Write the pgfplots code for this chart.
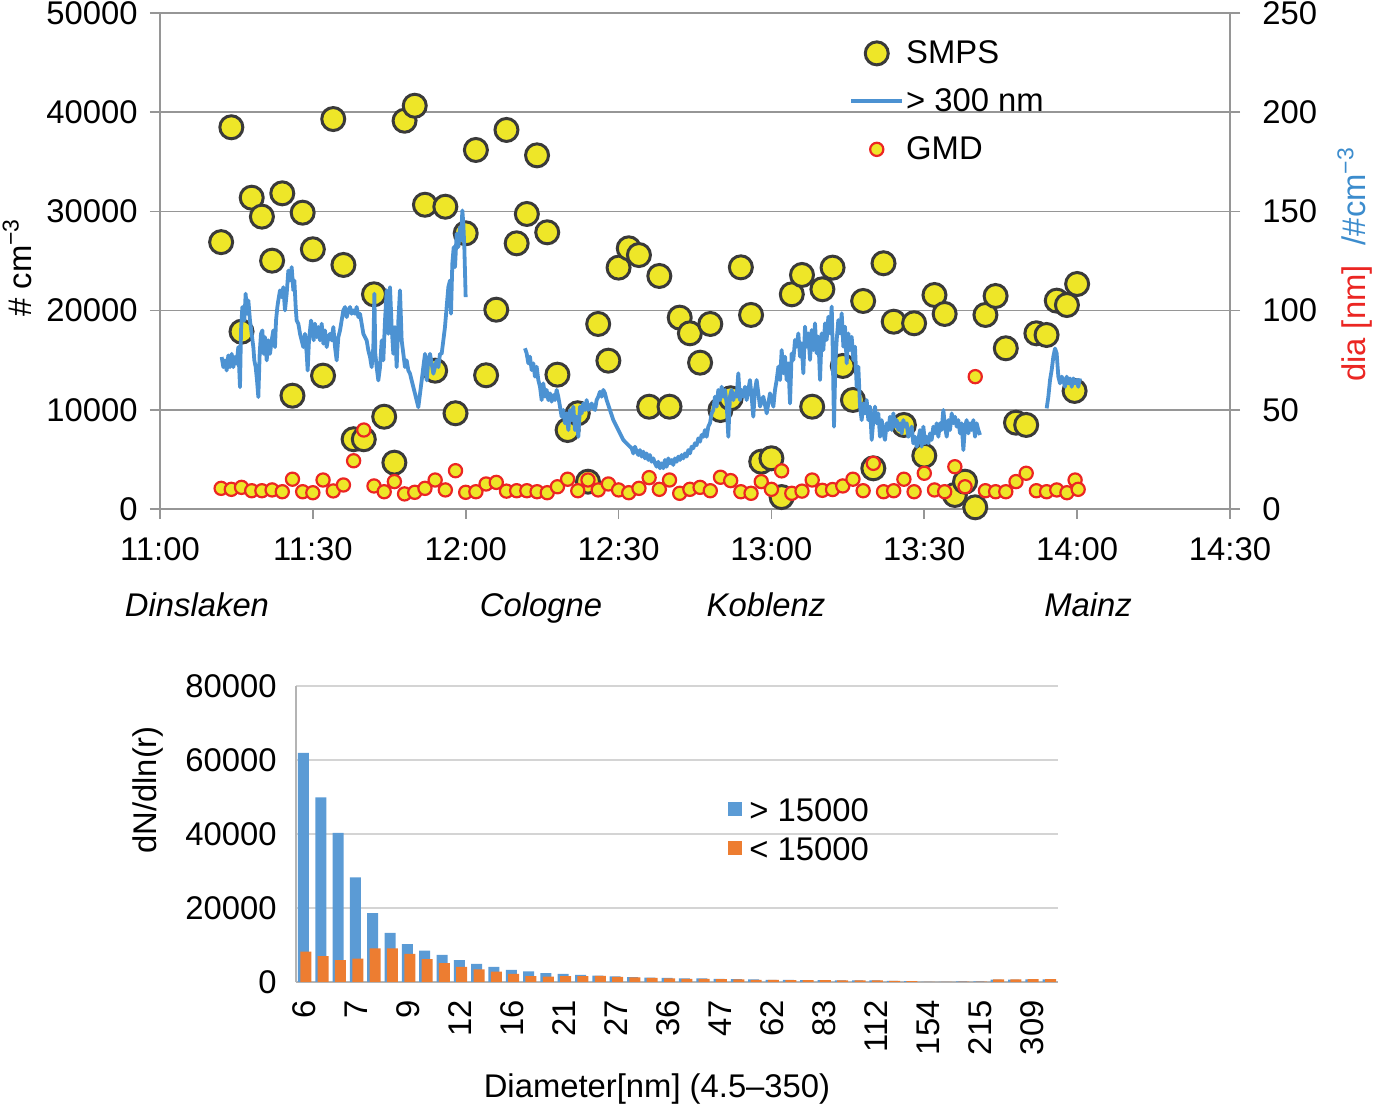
\documentclass[border=0pt]{standalone}
\usepackage{fontspec}
\setmainfont{Liberation Sans}
\usepackage{pgfplots}
\pgfplotsset{compat=1.18}
\definecolor{smpsF}{RGB}{238,230,40}
\definecolor{smpsE}{RGB}{58,58,58}
\definecolor{gmdE}{RGB}{235,38,35}
\definecolor{lineB}{RGB}{76,146,210}
\definecolor{barB}{RGB}{91,155,213}
\definecolor{barO}{RGB}{237,125,49}
\definecolor{gridT}{RGB}{150,150,150}
\definecolor{gridB}{RGB}{212,212,212}
\definecolor{lblR}{RGB}{235,38,35}
\definecolor{lblB}{RGB}{60,140,205}
\newcommand\f{\fontsize{16.4}{19}\selectfont}
\pgfplotsset{
 smps/.style={only marks, mark=*, mark size=5.75pt, mark options={draw=smpsE, fill=smpsF, line width=1.5pt}},
 gmd/.style={only marks, mark=*, mark size=3.3pt, mark options={draw=gmdE, fill=smpsF, line width=1.1pt}},
 bline/.style={color=lineB, line width=1.9pt, no marks, line join=round},
 legmark/.style={legend image code/.code={\draw[##1] plot coordinates {(12.75pt,1pt)};}},
 legline/.style={legend image code/.code={\draw[##1] (0pt,1pt) -- (25.5pt,1pt);}},
 legbarB/.style={legend image code/.code={\fill[barB] (0pt,-1.8pt) rectangle (7pt,5.2pt);}},
 legbarO/.style={legend image code/.code={\fill[barO] (0pt,-1.8pt) rectangle (7pt,5.2pt);}},
}
\begin{document}
\begin{tikzpicture}
\path[use as bounding box] (0,0) rectangle (686.5pt,553pt);
% ---------------- top chart, left axis ----------------
\begin{axis}[at={(80pt,298.5pt)}, anchor=south west, width=535pt, height=248pt, scale only axis,
 xmin=0, xmax=210, ymin=0, ymax=50000, clip=false,
 scaled y ticks=false, scaled x ticks=false,
 axis x line*=bottom, axis y line*=left,
 axis line style={gridT, line width=0.8pt},
 xtick={0,30,...,210}, xticklabels={11:00,11:30,12:00,12:30,13:00,13:30,14:00,14:30},
 ytick={0,10000,...,50000}, yticklabels={0,10000,20000,30000,40000,50000},
 tick align=outside, major tick length=5pt, tick style={gridT, line width=0.8pt},
 ymajorgrids, grid style={gridT, line width=0.8pt},
 ticklabel style={font=\f, inner sep=0pt},
 xticklabel style={yshift=-9pt},
 yticklabel style={xshift=-6pt},
]
\addplot[smps] coordinates {
(12,26900) (14,38480) (16,17870) (18,31380) (20,29470) (22,25030) (24,31820) (26,11420) (28,29870) (30,26180)
(32,13440) (34,39310) (36,24600) (38,7030) (40,7030) (42,21640) (44,9300) (46,4670) (48,39140) (50,40650)
(52,30670) (54,13940) (56,30470) (58,9650) (60,27790) (62,36190) (64,13480) (66,20090) (68,38210) (70,26780)
(72,29740) (74,35650) (76,27890) (78,13540) (80,7960) (82,9650) (84,2750) (86,18650) (88,14950) (90,24330)
(92,26280) (94,25600) (96,10310) (98,23490) (100,10310) (102,19290) (104,17710) (106,14750) (108,18650) (110,9980)
(112,11160) (114,24360) (116,19560) (118,4770) (120,5110) (122,1200) (124,21640) (126,23590) (128,10310) (130,22150)
(132,24330) (134,14420) (136,10990) (138,20970) (140,4100) (142,24770) (144,18880) (146,8470) (148,18720) (150,5370)
(152,21570) (154,19660) (156,1410) (158,2750) (160,170) (162,19560) (164,21470) (166,16200) (168,8700) (170,8470)
(172,17710) (174,17540) (176,21000) (178,20560) (180,22680) (179.5,11900)
};
\end{axis}
% ---------------- top chart, right axis ----------------
\begin{axis}[at={(80pt,298.5pt)}, anchor=south west, width=535pt, height=248pt, scale only axis,
 xmin=0, xmax=210, ymin=0, ymax=250, clip=false,
 scaled y ticks=false,
 axis x line=none, axis y line*=right,
 axis line style={gridT, line width=0.8pt},
 ytick={0,50,...,250}, yticklabels={0,50,100,150,200,250},
 tick align=outside, major tick length=5pt, tick style={gridT, line width=0.8pt},
 ticklabel style={font=\f, inner sep=0pt},
 yticklabel style={xshift=11pt},
 legend style={at={(0.6439,0.9466)}, anchor=north west, draw=none, fill=none, font=\f,
   inner sep=0pt, row sep=8.5pt, nodes={inner sep=0pt, text height=12pt, text depth=3.5pt}},
 legend cell align=left,
 /tikz/every odd column/.style={column sep=1pt},
]
\addlegendimage{smps, legmark}
\addlegendentry{SMPS}
\addplot[bline, legline] coordinates {
(12.10,76.6) (12.43,71.5) (12.76,74.9) (13.08,69.8) (13.41,77.4) (13.74,71.5) (14.07,78.2) (14.39,71.5) (14.72,76.6) (15.05,73.2)
(15.37,81.6) (15.70,61.4) (15.90,90.0) (16.16,101.8) (16.55,95.0) (16.81,108.5) (17.08,98.4) (17.34,105.1) (17.66,95.0) (17.99,88.3)
(18.32,81.6) (18.51,74.9) (18.78,71.5) (19.04,64.8) (19.30,56.4) (19.56,78.2) (19.82,88.3) (20.09,90.0) (20.35,78.2) (20.61,86.6)
(20.94,74.9) (21.26,85.0) (21.59,78.2) (21.92,85.0) (22.24,90.0) (22.57,81.6) (22.77,95.0) (23.03,101.8) (23.22,105.1) (23.55,110.2)
(23.88,106.8) (24.21,111.8) (24.53,100.1) (24.86,108.5) (25.19,120.2) (25.51,115.2) (25.84,121.9) (26.17,110.2) (26.37,115.2) (26.63,101.8)
(26.82,95.0) (27.15,93.4) (27.48,88.3) (27.80,85.0) (28.13,81.6) (28.46,88.3) (28.79,78.2) (28.98,69.8) (29.24,85.0) (29.64,95.0)
(29.90,91.7) (30.16,85.0) (30.42,93.4) (30.75,86.6) (31.08,91.7) (31.40,85.0) (31.73,93.4) (32.06,83.3) (32.38,90.0) (32.71,81.6)
(33.04,86.6) (33.37,88.3) (33.69,85.0) (34.02,91.7) (34.35,81.6) (34.67,74.9) (35.00,86.6) (35.33,90.0) (35.65,95.0) (35.98,100.1)
(36.31,101.8) (36.64,96.7) (36.96,100.1) (37.29,101.8) (37.62,98.4) (37.94,100.1) (38.27,98.4) (38.60,101.8) (38.93,96.7) (39.25,98.4)
(39.58,93.4) (39.91,88.3) (40.23,86.6) (40.56,85.0) (40.89,79.9) (41.22,76.6) (41.54,71.5) (41.87,81.6) (42.07,108.5) (42.26,78.2)
(42.52,71.5) (42.85,64.8) (43.18,71.5) (43.51,85.0) (43.83,74.9) (44.16,95.0) (44.49,110.2) (44.81,88.3) (45.14,111.8) (45.47,91.7)
(45.79,78.2) (46.12,91.7) (46.45,71.5) (46.78,95.0) (47.10,110.2) (47.43,85.0) (47.76,78.2) (48.08,71.5) (48.41,74.9) (48.74,69.8)
(49.07,68.2) (49.39,64.8) (49.72,61.4) (50.05,58.1) (50.37,54.7) (50.70,51.3) (51.03,58.1) (51.36,64.8) (51.68,71.5) (52.01,78.2)
(52.34,64.8) (52.66,74.9) (52.99,78.2) (53.32,73.2) (53.65,68.2) (53.97,71.5) (54.30,74.9) (54.63,71.5) (54.95,78.2) (55.28,78.2)
(55.61,85.0) (55.93,91.7) (56.26,101.8) (56.59,111.8) (56.92,115.2) (57.11,98.4) (57.37,123.6) (57.64,132.0) (57.90,121.9) (58.22,138.7)
(58.55,132.0) (58.88,142.1) (59.08,135.4) (59.34,150.5) (59.53,143.8) (59.73,132.0) (59.99,106.8)
};
\addlegendentry{> 300 nm}
\addplot[bline, forget plot] coordinates {
(71.63,81.0) (71.96,78.4) (72.29,73.4) (72.61,76.8) (72.94,70.0) (73.27,73.4) (73.59,66.7) (73.92,71.7) (74.25,65.0) (74.58,61.6)
(74.90,54.9) (75.23,63.3) (75.56,56.6) (75.88,60.0) (76.21,54.9) (76.54,58.3) (76.86,54.1) (77.19,57.4) (77.52,54.9) (77.85,60.0)
(78.17,56.6) (78.50,51.6) (78.83,46.5) (79.15,49.9) (79.48,43.2) (79.81,48.2) (80.14,39.8) (80.46,49.9) (80.79,44.8) (81.12,51.6)
(81.44,39.8) (81.77,46.5) (82.10,36.4) (82.43,51.6) (82.75,48.2) (83.08,53.2) (83.41,49.9) (83.73,54.9) (84.06,49.9) (84.39,51.6)
(84.72,53.2) (85.04,50.7) (85.37,49.9) (85.70,54.9) (86.02,56.6) (86.35,59.1) (86.68,56.6) (87.01,60.0) (87.33,58.3) (87.66,54.9)
(87.99,52.4) (88.31,49.9) (88.64,47.4) (88.97,44.8) (89.30,43.2) (89.62,41.5) (89.95,39.8) (90.28,38.1) (90.60,36.4) (90.93,34.8)
(91.26,33.9) (91.58,33.1) (91.91,32.2) (92.24,31.4) (92.57,30.6) (92.89,28.0) (93.22,31.4) (93.55,28.9) (93.87,27.2) (94.20,29.7)
(94.53,26.4) (94.86,28.9) (95.18,25.5) (95.51,28.0) (95.84,24.7) (96.16,27.2) (96.49,23.8) (96.82,25.5) (97.15,23.0) (97.47,21.3)
(97.80,23.8) (98.13,20.5) (98.45,23.0) (98.78,20.5) (99.11,24.7) (99.43,21.3) (99.76,25.5) (100.09,23.0) (100.42,24.7) (100.74,22.2)
(101.07,25.5) (101.40,23.8) (101.72,26.4) (102.05,24.7) (102.38,27.2) (102.71,25.5) (103.03,28.0) (103.36,26.4) (103.69,29.7) (104.01,28.0)
(104.34,31.4) (104.67,30.6) (104.99,33.1) (105.32,32.2) (105.65,35.6) (105.98,33.9) (106.30,37.3) (106.63,36.4) (106.96,39.8) (107.28,36.4)
(107.61,41.5) (107.94,43.2) (108.27,48.2) (108.59,49.9) (108.92,56.6) (109.25,51.6) (109.57,60.0) (109.90,54.9) (110.23,61.6) (110.56,56.6)
(110.88,60.0) (111.21,53.2) (111.54,36.4) (111.86,56.6) (112.19,60.0) (112.52,54.9) (112.84,58.3) (113.17,56.6) (113.50,68.4) (113.83,54.9)
(114.15,60.0) (114.48,56.6) (114.81,61.6) (115.13,54.9) (115.46,60.0) (115.79,65.0) (116.12,56.6) (116.44,46.5) (116.77,60.0) (117.10,65.0)
(117.76,51.6) (118.41,56.6) (119.07,48.2) (119.72,58.3) (120.38,51.6) (120.70,60.0) (121.03,65.0) (121.36,71.7) (121.69,65.0) (122.01,80.1)
(122.34,68.4) (122.67,76.8) (122.99,65.0) (123.32,73.4) (123.65,53.2) (123.97,78.4) (124.30,75.1) (124.63,85.2) (124.96,81.8) (125.28,88.5)
(125.61,76.8) (125.94,83.5) (126.26,68.4) (126.59,91.9) (126.92,81.8) (127.25,88.5) (127.57,75.1) (127.90,90.2) (128.23,80.1) (128.55,93.6)
(128.88,78.4) (129.21,86.8) (129.54,65.0) (129.86,88.5) (130.19,80.1) (130.52,93.6) (130.84,85.2) (131.17,96.9) (131.50,88.5) (131.83,102.0)
(132.02,81.8) (132.28,41.5) (132.55,73.4) (132.81,85.2) (133.13,95.2) (133.46,88.5) (133.79,98.6) (134.12,81.8) (134.44,91.9) (134.77,73.4)
(135.10,88.5) (135.42,80.1) (135.75,86.8) (136.08,75.1) (136.40,81.8) (136.73,61.6) (137.06,71.7) (137.39,51.6) (137.71,44.8) (138.04,53.2)
(138.37,48.2) (138.69,54.9) (139.02,44.8) (139.35,51.6) (139.68,34.8) (140.00,44.8) (140.33,51.6) (140.66,43.2) (140.98,48.2) (141.31,36.4)
(141.64,44.8) (141.97,38.1) (142.29,34.8) (142.62,43.2) (142.95,39.8) (143.27,46.5) (143.60,39.8) (143.93,48.2) (144.25,41.5) (144.58,44.8)
(144.91,39.8) (145.24,43.2) (145.56,38.1) (145.89,44.8) (146.22,41.5) (146.54,43.2) (146.87,36.4) (147.20,38.1) (147.53,41.5) (147.85,33.1)
(148.18,36.4) (148.51,31.4) (148.83,34.8) (149.16,39.8) (149.49,31.4) (149.82,41.5) (150.14,33.1) (150.47,36.4) (150.80,33.1) (151.12,38.1)
(151.45,34.8) (151.78,41.5) (152.11,38.1) (152.43,43.2) (152.76,36.4) (153.09,43.2) (153.41,39.8) (153.74,49.9) (154.07,41.5) (154.40,36.4)
(154.72,44.8) (155.05,39.8) (155.38,48.2) (155.70,43.2) (156.03,46.5) (156.36,41.5) (156.68,44.8) (157.01,38.1) (157.34,43.2) (157.67,29.7)
(157.99,41.5) (158.32,44.8) (158.65,38.1) (158.97,43.2) (159.30,39.8) (159.63,44.8) (159.96,36.4) (160.28,43.2) (160.61,39.8) (160.94,37.3)
};
\addplot[bline, forget plot] coordinates {
(174.02,50.7) (174.35,56.6) (174.68,65.0) (175.00,70.0) (175.33,76.8) (175.66,80.9) (175.98,78.4) (176.31,66.7) (176.64,63.3) (176.97,66.7)
(177.29,65.0) (177.62,61.6) (177.95,66.7) (178.27,63.3) (178.60,65.8) (178.93,61.6) (179.25,65.8) (179.58,63.3) (179.91,65.0) (180.23,61.6) (180.56,65.8)
};
\addplot[gmd, legmark] coordinates {
(12,10.4) (14,9.9) (16,10.9) (18,9.2) (20,9.2) (22,9.6) (24,8.7) (26,15.0) (28,8.7) (30,8.2)
(32,14.6) (34,9.1) (36,12.1) (38,24.3) (40,39.8) (42,11.6) (44,8.7) (46,13.8) (48,7.6) (50,8.4)
(52,10.4) (54,14.6) (56,9.6) (58,19.3) (60,8.4) (62,8.7) (64,12.6) (66,13.4) (68,9.0) (70,9.2)
(72,9.2) (74,8.7) (76,8.2) (78,11.2) (80,15.0) (82,9.2) (84,14.6) (86,9.6) (88,12.6) (90,9.6)
(92,8.2) (94,10.4) (96,15.8) (98,9.9) (100,14.6) (102,7.9) (104,9.9) (106,10.9) (108,9.2) (110,16.0)
(112,14.3) (114,8.7) (116,7.9) (118,13.8) (120,9.9) (122,19.2) (124,7.9) (126,9.0) (128,14.6) (130,9.4)
(132,9.8) (134,11.6) (136,15.0) (138,9.2) (140,23.0) (142,8.7) (144,9.2) (146,15.0) (148,8.7) (150,18.0)
(152,9.6) (154,8.7) (156,21.3) (158,11.2) (160,66.7) (162,9.2) (164,8.7) (166,8.7) (168,13.8) (170,18.0)
(172,9.2) (174,8.7) (176,9.6) (178,8.2) (179.6,14.6) (180.2,9.9)
};
\addlegendentry{GMD}
\end{axis}
% ---------------- bottom chart ----------------
\begin{axis}[at={(148pt,62pt)}, anchor=south west, width=381pt, height=148pt, scale only axis,
 xmin=-0.5, xmax=43.5, ymin=0, ymax=80000,
 scaled y ticks=false,
 axis x line*=bottom, axis y line*=left,
 axis line style={gridB!85!black, line width=0.8pt},
 xtick={0,3,...,42}, xticklabels={6,7,9,12,16,21,27,36,47,62,83,112,154,215,309},
 ytick={0,20000,...,80000}, yticklabels={0,20000,40000,60000,80000},
 major tick length=0pt,
 ymajorgrids, grid style={gridB, line width=0.8pt},
 ticklabel style={font=\f, inner sep=0pt},
 xticklabel style={rotate=90, anchor=east},
 xticklabel shift=9pt,
 yticklabel style={xshift=-9.5pt},
 ybar, bar width=5.5pt,
 legend style={at={(0.567,0.626)}, anchor=north west, draw=none, fill=none, font=\f,
   inner sep=0pt, row sep=4pt, nodes={inner sep=0pt, text height=12pt, text depth=3.5pt}},
 legend cell align=left,
 /tikz/every odd column/.style={column sep=3.5pt},
]
\addplot[draw=none, fill=barB, bar shift=-0.6pt, legbarB] coordinates {
(0,61900) (1,49900) (2,40300) (3,28300) (4,18600) (5,13300) (6,10200) (7,8500) (8,7300) (9,5900)
(10,4900) (11,4100) (12,3300) (13,2900) (14,2400) (15,2200) (16,1950) (17,1700) (18,1500) (19,1300)
(20,1200) (21,1100) (22,1000) (23,950) (24,860) (25,770) (26,680) (27,600) (28,550) (29,500)
(30,500) (31,450) (32,450) (33,450) (34,320) (35,230) (36,50) (37,30) (38,150) (39,150)
(40,650) (41,650) (42,700) (43,700)
};
\addlegendentry{> 15000}
\addplot[draw=none, fill=barO, bar shift=0.6pt, legbarO] coordinates {
(0,8200) (1,7000) (2,5900) (3,6300) (4,9100) (5,9100) (6,7600) (7,6200) (8,5100) (9,4100)
(10,3400) (11,2800) (12,2200) (13,1600) (14,1450) (15,1550) (16,1550) (17,1650) (18,1400) (19,1220)
(20,1130) (21,950) (22,860) (23,860) (24,770) (25,680) (26,600) (27,590) (28,500) (29,500)
(30,500) (31,420) (32,420) (33,420) (34,320) (35,230) (36,0) (37,0) (38,100) (39,100)
(40,700) (41,700) (42,770) (43,770)
};
\addlegendentry{< 15000}
\end{axis}
% ---------------- labels ----------------
\node[font=\f, rotate=90] at (8.5pt,419.25pt) {\# cm\textsuperscript{−3}};
\node[font=\f, rotate=90] at (677.5pt,420.75pt) {\textcolor{lblR}{dia [nm]}\hspace{10pt}\textcolor{lblB}{/\#cm\textsuperscript{−3}}};
\begin{scope}[every node/.style={font=\f\itshape, text height=12pt, text depth=0pt}]
\node at (98.5pt,250.5pt) {Dinslaken};
\node at (270.5pt,250.5pt) {Cologne};
\node at (383pt,250.5pt) {Koblenz};
\node at (544pt,250.5pt) {Mainz};
\end{scope}
\node[font=\f, rotate=90] at (74pt,158pt) {dN/dln(r)};
\node[font=\f] at (328.5pt,8.5pt) {Diameter[nm] (4.5–350)};
\end{tikzpicture}
\end{document}
